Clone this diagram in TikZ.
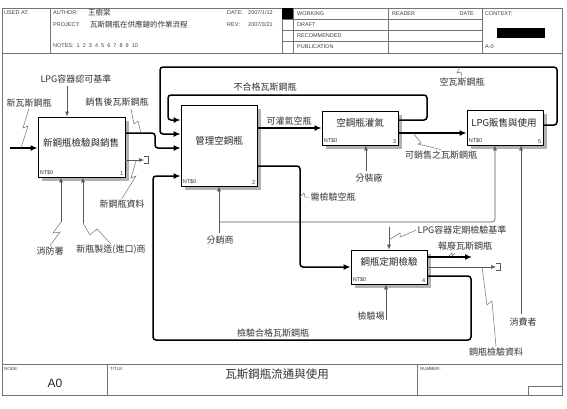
\documentclass[tikz,border=0pt]{standalone}
\usepackage{fontspec}
\setmainfont{Liberation Sans}
\newfontfamily\cjk{Noto Sans CJK TC}
\usetikzlibrary{arrows.meta}
\begin{document}
\begin{tikzpicture}[x=1pt,y=-1pt,
  frame/.style={draw=black!55,line width=0.6pt},
  hdr/.style={font=\fontsize{5.5}{6}\selectfont,text=black!75,anchor=west,inner sep=0pt},
  hdrc/.style={font=\cjk\fontsize{7.5}{8}\selectfont,text=black!80,anchor=west,inner sep=0pt},
  procbox/.style={draw=black,line width=0.8pt,fill=white,inner sep=0pt},
  shade/.style={fill=black!30},
  boxtext/.style={font=\cjk\fontsize{9.5}{10}\selectfont,text=black!85,inner sep=0pt},
  nt/.style={font=\fontsize{5.5}{6}\selectfont,text=black!80,inner sep=2pt},
  lbl/.style={font=\cjk\fontsize{9}{10}\selectfont,text=black!80,inner sep=1pt},
  flow/.style={draw=black,line width=1.5pt,rounded corners=3pt},
  arr/.style={-{Latex[length=7pt,width=6pt]}},
  tline/.style={draw=black!65,line width=0.6pt,rounded corners=3pt},
  tarr/.style={-{Latex[length=5pt,width=4pt]}},
  squig/.style={draw=black!55,line width=0.5pt},
  tunnel/.style={draw=black!65,line width=0.6pt},
]
\fill[white] (0,0) rectangle (567,408);
\useasboundingbox (0,0) rectangle (567,408);

% ---------- frame / header ----------
\draw[frame] (2,8) rectangle (562,395);
\draw[frame] (2,53) -- (562,53);
\foreach \xx in {50,282,293,388,482} \draw[frame] (\xx,8) -- (\xx,53);
\foreach \yy in {19,30,41} \draw[frame] (282,\yy) -- (482,\yy);
\fill[black] (282,8) rectangle (293,19);
\fill[black] (497,28) rectangle (545,38);

\node[hdr] (usedat) at (4,13) {USED AT:};
\node[hdr] (author) at (53,13) {AUTHOR:};
\node[hdrc] (authorname) at (88,13) {王樹棠};
\node[hdr] (project) at (53,25) {PROJECT:};
\node[hdrc] (projname) at (90,25) {瓦斯鋼瓶在供應鏈的作業流程};
\node[hdr] (notes) at (53,46) {NOTES:\ \ 1\ \ 2\ \ 3\ \ 4\ \ 5\ \ 6\ \ 7\ \ 8\ \ 9\ \ 10};
\node[hdr] (date) at (227,13) {DATE:};
\node[hdr] (dateval) at (248,13) {2007/1/12};
\node[hdr] (rev) at (227,25) {REV:};
\node[hdr] (revval) at (248,25) {2007/3/21};
\node[hdr] (working) at (297,13.5) {WORKING};
\node[hdr] (draft) at (297,24.5) {DRAFT};
\node[hdr] (recom) at (297,35.5) {RECOMMENDED};
\node[hdr] (publ) at (297,47) {PUBLICATION};
\node[hdr] (reader) at (392,13.5) {READER};
\node[hdr,anchor=east] (rdate) at (474,13.5) {DATE};
\node[hdr] (context) at (485,13.5) {CONTEXT:};
\node[hdr] (azero) at (485,47) {A-0};

% ---------- footer ----------
\draw[frame] (2,364) -- (562,364);
\draw[frame] (107,364) -- (107,395);
\draw[frame] (417,364) -- (417,395);
\draw[frame] (528,386) rectangle (562,395);
\node[hdr,font=\fontsize{4.5}{5}\selectfont] (nodelbl) at (4,368.5) {NODE:};
\node[hdr,font=\fontsize{4.5}{5}\selectfont] (titlelbl) at (110,368.5) {TITLE:};
\node[hdr,font=\fontsize{4.5}{5}\selectfont] (numlbl) at (420,368.5) {NUMBER:};
\node[font=\fontsize{12}{13}\selectfont,text=black!85,inner sep=0pt] (nodeval) at (55,383) {A0};
\node[font=\cjk\fontsize{11.5}{12}\selectfont,text=black!80,inner sep=0pt] (title) at (277,374) {瓦斯鋼瓶流通與使用};

% ---------- shadows ----------
\fill[shade] (42,121) rectangle (129,181);
\fill[shade] (185,109) rectangle (261,190);
\fill[shade] (326,115) rectangle (402,149);
\fill[shade] (471,114) rectangle (547,149);
\fill[shade] (355,254) rectangle (431,288);

% ---------- activity boxes ----------
\node[procbox,minimum width=87pt,minimum height=60pt] (b1) at (81.5,147) {};
\node[procbox,minimum width=76pt,minimum height=81pt] (b2) at (219,145.5) {};
\node[procbox,minimum width=76pt,minimum height=34pt] (b3) at (360,128) {};
\node[procbox,minimum width=76pt,minimum height=35pt] (b5) at (505,127.5) {};
\node[procbox,minimum width=76pt,minimum height=34pt] (b4) at (389,267) {};

\node[boxtext] (b1t) at (81,143) {新鋼瓶檢驗與銷售};
\node[boxtext] (b2t) at (219,141) {管理空鋼瓶};
\node[boxtext] (b3t) at (360,123) {空鋼瓶灌氣};
\node[boxtext] (b5t) at (504,123) {LPG販售與使用};
\node[boxtext] (b4t) at (389,262) {鋼瓶定期檢驗};

\foreach \b/\n in {b1/1,b2/2,b3/3,b4/4,b5/5}{
  \node[nt,anchor=south west] (\b nt) at (\b.south west) {NT\$0};
  \node[nt,anchor=south east] (\b num) at (\b.south east) {\n};
}

% ---------- labels ----------
\node[lbl] (l1) at (29,103) {新瓦斯鋼瓶};
\node[lbl] (l2) at (76,79) {LPG容器認可基準};
\node[lbl] (l3) at (117,102) {銷售後瓦斯鋼瓶};
\node[lbl] (l4) at (122,204) {新鋼瓶資料};
\node[lbl] (l5) at (50,251) {消防署};
\node[lbl] (l6) at (111,250) {新瓶製造(進口)商};
\node[lbl] (l7) at (265,87) {不合格瓦斯鋼瓶};
\node[lbl] (l8) at (462,82) {空瓦斯鋼瓶};
\node[lbl] (l9) at (289,121) {可灌氣空瓶};
\node[lbl] (l10) at (441,155) {可銷售之瓦斯鋼瓶};
\node[lbl] (l11) at (369,178) {分裝廠};
\node[lbl] (l12) at (333,197) {需檢驗空瓶};
\node[lbl] (l13) at (220,240) {分銷商};
\node[lbl] (l14) at (462,230) {LPG容器定期檢驗基準};
\node[lbl] (l15) at (465,246) {報廢瓦斯鋼瓶};
\node[lbl] (l16) at (371,316) {檢驗場};
\node[lbl] (l17) at (523,322) {消費者};
\node[lbl] (l18) at (273,333) {檢驗合格瓦斯鋼瓶};
\node[lbl] (l19) at (496,352) {鋼瓶檢驗資料};

% ---------- free ends ----------
\coordinate (in1) at (10,148);
\coordinate (out1) at (472,257);
\coordinate (tun1) at (144,160);
\coordinate (tun2) at (496,267);
\coordinate (m1) at (61,222);
\coordinate (m2) at (83,223);
\coordinate (dist) at (219,233);
\coordinate (fz) at (366,171);
\coordinate (cons) at (521,314);
\coordinate (insp) at (386,320);
\coordinate (ctl1) at (67,86);
\coordinate (ctl2) at (389,227);

% ---------- thin connectors ----------
\draw[tline,tarr] (ctl1) -- (b1.north -| ctl1);
\draw[tline,tarr] (m1) -- (b1.south -| m1);
\draw[tline,tarr] (m2) -- (b1.south -| m2);
\draw[tline,tarr] (b1.east |- tun1) -- (tun1);
\draw[tunnel] (144,156.5) -- (148.5,156.5) -- (148.5,163.5) -- (144,163.5);
\draw[tline,tarr] (fz) -- (b3.south -| fz);
\draw[tline,tarr] (dist) -- (b2.south -| dist);
\draw[tline,tarr] (219,222) -- (495,222) -- (b5.south -| 495,0);
\draw[tline,tarr] (cons) -- (b5.south -| cons);
\draw[tline,tarr] (ctl2) -- (b4.north -| ctl2);
\draw[tline,tarr] (b4.east |- tun2) -- (tun2);
\draw[tunnel] (496,263.5) -- (500.5,263.5) -- (500.5,270.5) -- (496,270.5);
\draw[tline,tarr] (insp) -- (b4.south -| insp);

% ---------- thick connectors ----------
\draw[flow,arr] (in1) -- (b1.west |- in1);
\draw[flow,arr] (b1.east |- 0,133) -- (155,133) -- (155,148) -- (b2.west |- 0,148);
\draw[flow,arr] (b5.east |- 0,125) -- (557,125) -- (557,67) -- (160,67) -- (160,134) -- (b2.west |- 0,134);
\draw[flow,arr] (b3.east |- 0,120) -- (427,120) -- (427,95) -- (168,95) -- (168,120) -- (b2.west |- 0,120);
\draw[flow,arr] (b2.east |- 0,128) -- (b3.west |- 0,128);
\draw[flow,arr] (b2.east |- 0,166) -- (300,166) -- (300,267) -- (b4.west |- 0,267);
\draw[flow,arr] (b3.east |- 0,133) -- (b5.west |- 0,133);
\draw[flow,arr] (b4.east |- out1) -- (out1);
\draw[flow,arr] (b4.east |- 0,276) -- (471,276) -- (471,340) -- (153,340) -- (153,176) -- (b2.west |- 0,176);

% ---------- squiggles ----------
\draw[squig] (l1.south) -- (23,128) -- (28,126) -- (21,148);
\draw[squig] (131,109) -- (134,124) -- (138,121) -- (141,133);
\draw[squig] (136,161) -- (131,178) -- (136,176) -- (l4.north);
\draw[squig] (m1) -- (53,233) -- (60,232) -- (l5.north);
\draw[squig] (m2) -- (90,235) -- (97,229) -- (l6.north);
\draw[squig] (l8.north) -- (461,72) -- (457,73) -- (460,67);
\draw[squig] (413,133) -- (421,143) -- (418,144) -- (l10.north);
\draw[squig] (300,197) -- (304,193) -- (305,197) -- (l12.west);
\draw[squig] (389,240) -- (400,233) -- (400,237) -- (l14.west);
\draw[squig] (449,256) -- (452,253) -- (452,256) -- (455,253);
\draw[squig] (482,267) -- (487,305) -- (492,301) -- (l19.north);
\end{tikzpicture}
\end{document}
